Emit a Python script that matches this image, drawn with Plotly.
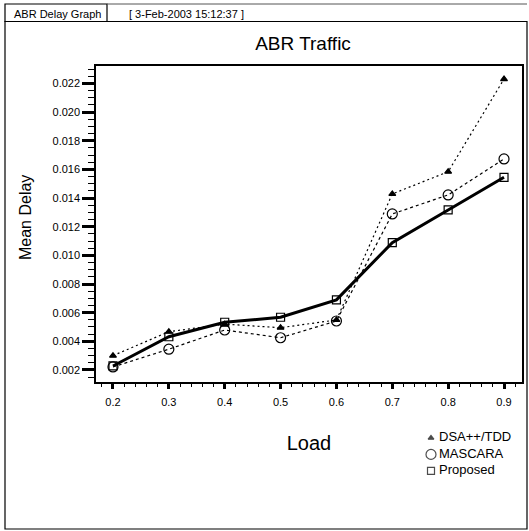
import plotly.graph_objects as go

load = [0.2, 0.3, 0.4, 0.5, 0.6, 0.7, 0.8, 0.9]
dsa_tdd = [0.0030, 0.00467, 0.00520, 0.00495, 0.00549, 0.01429, 0.01584, 0.02231]
mascara = [0.00221, 0.00345, 0.00479, 0.00425, 0.00542, 0.01289, 0.01422, 0.01673]
proposed = [0.00228, 0.00432, 0.00533, 0.00568, 0.00689, 0.01089, 0.01317, 0.01545]

series_names = ["DSA++/TDD", "MASCARA", "Proposed"]
x_ticks = [0.2, 0.3, 0.4, 0.5, 0.6, 0.7, 0.8, 0.9]
y_ticks = [0.002, 0.004, 0.006, 0.008, 0.010, 0.012, 0.014, 0.016, 0.018, 0.020, 0.022]

W, H = 529, 531
L, R, T, B = 96, 522, 66, 382
FONT = "Liberation Sans, Arial, sans-serif"


def px(x):
    return x / W


def py(y):
    return 1 - y / H


symbols = ["triangle-up", "circle-open", "square-open"]
sizes = [6, 10, 8]
legend_sizes = [5, 10, 7]
dashes = ["2px,3px", "3px,3px", "solid"]
widths = [1.2, 1.2, 3]

fig = go.Figure()
for name, vals, sym, sz, dash, w in zip(series_names, [dsa_tdd, mascara, proposed],
                                         symbols, sizes, dashes, widths):
    fig.add_trace(go.Scatter(
        x=load, y=vals, mode="lines+markers", name=name, showlegend=False,
        line=dict(color="black", width=w, dash=dash),
        marker=dict(symbol=sym, size=sz, color="black", line=dict(width=1.2, color="black"))))

# compact legend drawn on a hidden overlay axis (x: 0 = symbol column, 1 = text column)
legend_sym_col = [0] * len(series_names)
legend_txt_col = [1] * len(series_names)
fig.add_trace(go.Scatter(
    x=legend_sym_col, y=series_names, xaxis="x2", yaxis="y2", mode="markers",
    marker=dict(symbol=symbols, size=legend_sizes, color="black", line=dict(width=1.2, color="black")),
    cliponaxis=False, showlegend=False, hoverinfo="skip"))
fig.add_trace(go.Scatter(
    x=legend_txt_col, y=series_names, xaxis="x2", yaxis="y2", mode="text",
    text=series_names, textposition="middle right",
    textfont=dict(family=FONT, size=13, color="black"),
    cliponaxis=False, showlegend=False, hoverinfo="skip"))

axis_common = dict(
    showgrid=False, zeroline=False, showline=True, linecolor="black", linewidth=1.5,
    mirror=True, ticks="outside", tickcolor="black",
    tickfont=dict(family=FONT, size=11, color="black"),
)

fig.update_layout(
    xaxis=dict(
        **axis_common, domain=[px(L), px(R)],
        range=[0.1696, 0.9322], tickvals=x_ticks, tickformat=".1f",
        ticklen=5, tickwidth=3, ticklabelstandoff=4,
        minor=dict(dtick=0.02, tick0=0.2, ticks="outside", ticklen=3, tickwidth=1, tickcolor="black"),
        title=dict(text="Load", font=dict(family=FONT, size=20, color="black"), standoff=29),
    ),
    yaxis=dict(
        **axis_common, domain=[py(B), py(T)],
        range=[0.00116, 0.02322], tickvals=y_ticks, tickformat=".3f",
        ticklen=12, tickwidth=2.5,
        minor=dict(dtick=0.0005, tick0=0.002, ticks="outside", ticklen=6, tickwidth=1, tickcolor="black"),
    ),
    xaxis2=dict(domain=[px(431), px(439)], range=[0, 1], visible=False, anchor="y2"),
    yaxis2=dict(domain=[py(477.5), py(432.5)], visible=False, anchor="x2",
                autorange="reversed", type="category"),
)

shapes = [
    dict(type="rect", xref="paper", yref="paper", x0=px(5), x1=px(527), y0=py(529), y1=py(21.5),
         line=dict(color="black", width=1.2)),
    dict(type="rect", xref="paper", yref="paper", x0=px(5), x1=px(107), y0=py(21.5), y1=py(4),
         line=dict(color="black", width=1.2)),
    dict(type="line", xref="paper", yref="paper", x0=px(107), x1=px(527), y0=py(4), y1=py(4),
         line=dict(color="#555555", width=1)),
]

annotations = [
    dict(text="ABR Delay Graph", xref="paper", yref="paper", x=px(12), y=py(14),
         xanchor="left", yanchor="middle", showarrow=False,
         font=dict(family=FONT, size=11, color="black")),
    dict(text="[ 3-Feb-2003 15:12:37 ]", xref="paper", yref="paper", x=px(127), y=py(14),
         xanchor="left", yanchor="middle", showarrow=False,
         font=dict(family=FONT, size=11, color="black")),
    dict(text="Mean Delay", xref="paper", yref="paper", x=px(25), y=py(218),
         xanchor="center", yanchor="middle", textangle=-90, showarrow=False,
         font=dict(family=FONT, size=16, color="black")),
]

fig.update_layout(
    width=W, height=H,
    margin=dict(l=0, r=0, t=0, b=0, pad=0, autoexpand=False),
    paper_bgcolor="white", plot_bgcolor="white",
    title=dict(text="ABR Traffic", xref="container", yref="container", x=303 / W, xanchor="center",
               y=1 - 43 / H, yanchor="middle",
               font=dict(family=FONT, size=19, color="black")),
    showlegend=False,
    shapes=shapes, annotations=annotations,
    font=dict(family=FONT, color="black"),
)

fig.write_html("out.html", config={"displayModeBar": False},
               post_script="document.body.style.margin='0';")
